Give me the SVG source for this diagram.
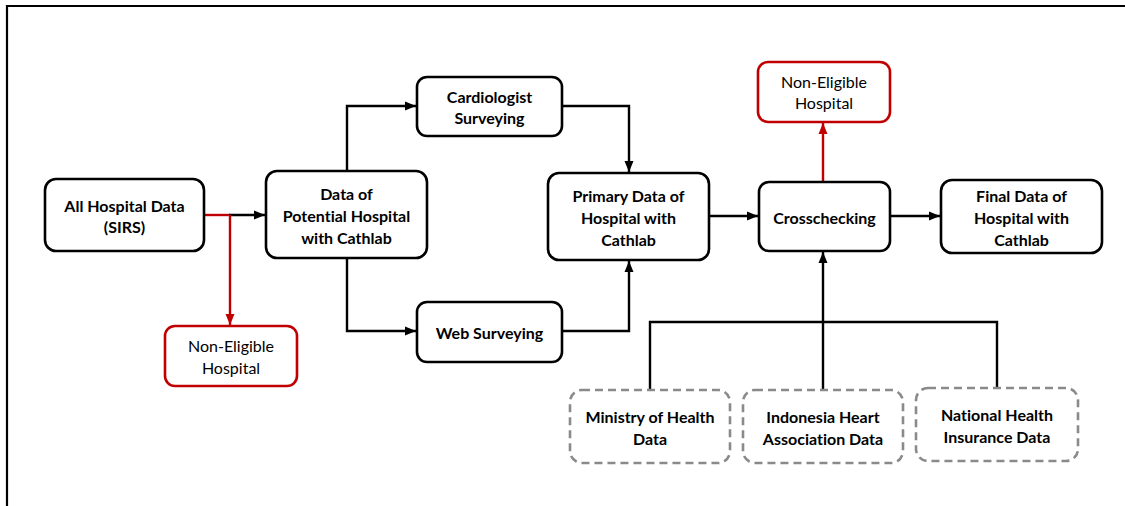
<svg xmlns="http://www.w3.org/2000/svg" width="1125" height="506" viewBox="0 0 1125 506">
<defs>
<style>
.box{fill:#fff;stroke:#000;stroke-width:2.6}
.red{fill:#fff;stroke:#c00000;stroke-width:2.6}
.dash{fill:#fff;stroke:#8a8a8a;stroke-width:2.6;stroke-dasharray:8 5}
.t{font-family:Lato,"Open Sans","Liberation Sans",sans-serif;font-size:16px;font-weight:bold;fill:#000;text-anchor:middle;dominant-baseline:central;font-variant-ligatures:none}
.r{font-family:Lato,"Open Sans","Liberation Sans",sans-serif;font-size:16px;fill:#000;text-anchor:middle;dominant-baseline:central;font-variant-ligatures:none}
.c{fill:none;stroke:#000;stroke-width:2.4}
.cr{fill:none;stroke:#c00000;stroke-width:2.4}
</style>
<marker id="ab" markerUnits="userSpaceOnUse" markerWidth="12" markerHeight="12" viewBox="0 0 12 12" refX="11" refY="6" orient="auto"><path d="M0,1.5 L11,6 L0,10.5 Z" fill="#000"/></marker>
<marker id="ar" markerUnits="userSpaceOnUse" markerWidth="12" markerHeight="12" viewBox="0 0 12 12" refX="11" refY="6" orient="auto"><path d="M0,1.5 L11,6 L0,10.5 Z" fill="#c00000"/></marker>
</defs>
<rect width="1125" height="506" fill="#fff"/>
<path d="M7,506 V6 H1125" fill="none" stroke="#000" stroke-width="2.2"/>

<g id="connectors">
<path class="cr" d="M204,215 H230"/>
<path class="c" d="M229,215 H265" marker-end="url(#ab)"/>
<path class="cr" d="M230,215 V325" marker-end="url(#ar)"/>
<path class="c" d="M347,171 V106 H416" marker-end="url(#ab)"/>
<path class="c" d="M347,258 V331 H416" marker-end="url(#ab)"/>
<path class="c" d="M562,106 H629 V172" marker-end="url(#ab)"/>
<path class="c" d="M562,331 H629 V261" marker-end="url(#ab)"/>
<path class="c" d="M709,216 H758" marker-end="url(#ab)"/>
<path class="c" d="M890,216 H940" marker-end="url(#ab)"/>
<path class="cr" d="M823,182 V123" marker-end="url(#ar)"/>
<path class="c" d="M823,390 V252" marker-end="url(#ab)"/>
<path class="c" d="M650,390 V322 H997 V388"/>
</g>

<g id="all-hospital"><rect class="box" x="45" y="179" width="159" height="72" rx="11"/><text class="t" x="124.5" y="205">All Hospital Data</text><text class="t" x="124.5" y="226">(SIRS)</text></g>
<g id="potential"><rect class="box" x="266" y="171" width="161" height="87" rx="11"/><text class="t" x="346.5" y="193">Data of</text><text class="t" x="346.5" y="215">Potential Hospital</text><text class="t" x="346.5" y="237">with Cathlab</text></g>
<g id="cardiologist"><rect class="box" x="417" y="77" width="145" height="59" rx="10"/><text class="t" x="489.5" y="96">Cardiologist</text><text class="t" x="489.5" y="117">Surveying</text></g>
<g id="web"><rect class="box" x="417" y="302" width="145" height="60" rx="10"/><text class="t" x="489.5" y="332">Web Surveying</text></g>
<g id="primary"><rect class="box" x="548" y="173" width="161" height="87" rx="11"/><text class="t" x="628.5" y="195">Primary Data of</text><text class="t" x="628.5" y="217">Hospital with</text><text class="t" x="628.5" y="239">Cathlab</text></g>
<g id="crosschecking"><rect class="box" x="759" y="182" width="131" height="69" rx="10"/><text class="t" x="824.5" y="217">Crosschecking</text></g>
<g id="final"><rect class="box" x="941" y="180" width="161" height="73" rx="11"/><text class="t" x="1021.5" y="195">Final Data of</text><text class="t" x="1021.5" y="217">Hospital with</text><text class="t" x="1021.5" y="239">Cathlab</text></g>
<g id="non-eligible-top"><rect class="red" x="758" y="62" width="132" height="60" rx="10"/><text class="r" x="824" y="81">Non-Eligible</text><text class="r" x="824" y="102">Hospital</text></g>
<g id="non-eligible-bottom"><rect class="red" x="165" y="326" width="132" height="60" rx="10"/><text class="r" x="231" y="345">Non-Eligible</text><text class="r" x="231" y="367">Hospital</text></g>
<g id="ministry"><rect class="dash" x="570" y="390" width="160" height="73" rx="12"/><text class="t" x="650" y="416">Ministry of Health</text><text class="t" x="650" y="438">Data</text></g>
<g id="iha"><rect class="dash" x="743" y="390" width="160" height="73" rx="12"/><text class="t" x="823" y="416">Indonesia Heart</text><text class="t" x="823" y="438">Association Data</text></g>
<g id="bpjs"><rect class="dash" x="916" y="388" width="162" height="73" rx="12"/><text class="t" x="997" y="414">National Health</text><text class="t" x="997" y="436">Insurance Data</text></g>
</svg>
